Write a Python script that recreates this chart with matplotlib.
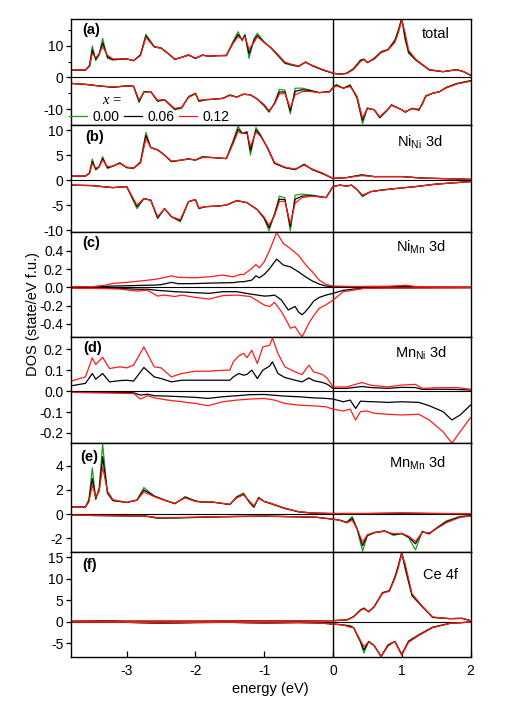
import numpy as np
import matplotlib.pyplot as plt

plt.rcParams['font.family'] = 'Liberation Sans'
plt.rcParams['mathtext.fontset'] = 'custom'
plt.rcParams['mathtext.rm'] = 'Liberation Sans'
plt.rcParams['axes.unicode_minus'] = False

x_labels = ['0.00', '0.06', '0.12']
colors = ['#1e9a1e', 'black', '#ff1a1a']

# ---- (a) total ----
E_a_up = [-3.81, -3.6, -3.54, -3.5, -3.45, -3.4, -3.35, -3.28, -3.2, -3.0, -2.9, -2.8, -2.72, -2.6, -2.5,
          -2.4, -2.3, -2.2, -2.1, -2.0, -1.9, -1.8, -1.7, -1.55, -1.45, -1.38, -1.32, -1.28, -1.22, -1.15,
          -1.1, -1.0, -0.9, -0.8, -0.7, -0.6, -0.5, -0.4, -0.3, -0.15, 0.0, 0.1, 0.2, 0.3, 0.4, 0.45, 0.5,
          0.6, 0.7, 0.8, 0.9, 0.95, 1.0, 1.05, 1.1, 1.2, 1.3, 1.4, 1.6, 1.8, 1.9, 2.0]
a_up_000 = [2.3, 2.3, 4.0, 9.9, 5.3, 7.0, 12.3, 6.0, 5.5, 5.9, 5.2, 7.2, 13.6, 9.8, 9.3,
            7.6, 5.6, 6.4, 7.2, 5.9, 7.1, 6.6, 6.9, 6.8, 11.5, 14.4, 11.5, 13.6, 6.0, 12.2,
            13.9, 11.2, 9.2, 6.8, 4.4, 3.8, 3.4, 4.9, 3.6, 2.3, 1.3, 1.0, 1.3, 2.8, 5.5, 5.8, 4.6,
            6.0, 8.1, 8.8, 11.8, 15.0, 18.5, 11.8, 7.6, 5.5, 3.9, 2.3, 1.8, 2.5, 1.8, 0.7]
a_up_006 = [2.3, 2.3, 3.5, 8.6, 5.8, 7.5, 10.9, 6.5, 5.6, 5.8, 5.3, 7.0, 13.0, 9.6, 9.2,
            7.6, 5.7, 6.3, 7.0, 6.0, 7.0, 6.7, 6.8, 6.9, 11.0, 13.5, 11.8, 13.2, 7.5, 11.5,
            13.2, 11.0, 9.3, 7.0, 4.6, 4.0, 3.5, 4.8, 3.7, 2.4, 1.3, 1.0, 1.3, 2.7, 5.3, 5.7, 4.7,
            5.9, 8.0, 8.7, 11.5, 14.5, 18.5, 12.5, 8.0, 5.6, 4.0, 2.4, 1.8, 2.4, 1.8, 0.7]
a_up_012 = [2.3, 2.4, 3.5, 7.6, 6.2, 7.4, 9.7, 7.0, 5.8, 5.8, 5.3, 6.8, 12.6, 9.6, 9.2,
            7.5, 5.8, 6.3, 7.0, 6.1, 6.9, 6.7, 6.8, 7.0, 10.8, 12.8, 12.0, 12.8, 8.8, 11.0,
            12.8, 11.0, 9.3, 7.2, 4.8, 4.1, 3.6, 4.7, 3.8, 2.5, 1.4, 1.0, 1.2, 2.5, 5.0, 5.6, 4.8,
            5.7, 7.8, 8.6, 11.0, 14.0, 18.0, 14.0, 8.6, 5.8, 4.1, 2.5, 1.8, 2.4, 1.8, 0.8]

E_a_dn = [-3.81, -3.6, -3.4, -3.2, -3.0, -2.9, -2.82, -2.75, -2.65, -2.55, -2.45, -2.3, -2.2, -2.1, -2.0,
          -1.95, -1.85, -1.75, -1.6, -1.5, -1.4, -1.3, -1.2, -1.1, -1.0, -0.93, -0.85, -0.78, -0.7, -0.62,
          -0.55, -0.45, -0.35, -0.2, -0.05, 0.0, 0.05, 0.15, 0.25, 0.3, 0.35, 0.43, 0.5, 0.6, 0.68,
          0.8, 0.85, 1.0, 1.05, 1.15, 1.25, 1.3, 1.35, 1.45, 1.55, 1.65, 1.8, 2.0]
a_dn_000 = [-1.9, -2.2, -2.7, -3.1, -2.7, -2.8, -7.9, -4.5, -4.5, -7.6, -7.1, -10.2, -9.7, -6.0, -5.0,
            -7.6, -7.1, -6.9, -6.6, -5.5, -6.2, -5.3, -5.5, -6.9, -9.0, -11.0, -8.1, -3.8, -4.0, -11.5,
            -3.4, -3.4, -3.9, -4.8, -4.5, -3.1, -2.2, -3.4, -2.3, -4.5, -6.6, -14.6, -9.7, -10.2, -12.8,
            -10.2, -8.6, -10.2, -11.0, -9.7, -10.4, -8.1, -5.8, -5.0, -4.5, -3.1, -1.9, -1.0]
a_dn_006 = [-1.9, -2.2, -2.7, -3.1, -2.7, -2.8, -7.5, -4.6, -4.5, -7.4, -7.0, -10.0, -9.5, -6.2, -5.1,
            -7.4, -7.0, -6.9, -6.6, -5.6, -6.2, -5.3, -5.5, -6.8, -8.8, -10.7, -8.2, -4.6, -4.6, -10.5,
            -4.4, -3.9, -4.1, -4.8, -4.5, -3.2, -2.5, -3.4, -2.6, -4.4, -6.3, -13.5, -9.7, -10.2, -12.6,
            -10.1, -8.7, -10.2, -10.9, -9.8, -10.2, -8.3, -5.9, -5.0, -4.5, -3.2, -2.0, -1.1]
a_dn_012 = [-1.9, -2.2, -2.7, -3.0, -2.7, -2.8, -7.1, -4.7, -4.5, -7.2, -7.0, -9.8, -9.4, -6.3, -5.2,
            -7.2, -7.0, -6.9, -6.6, -5.7, -6.2, -5.3, -5.5, -6.8, -8.6, -10.5, -8.4, -5.3, -5.0, -9.7,
            -5.5, -4.5, -4.4, -4.8, -4.6, -3.3, -2.7, -3.4, -2.9, -4.3, -6.0, -12.8, -9.8, -10.2, -12.4,
            -10.0, -8.8, -10.2, -10.8, -9.9, -10.0, -8.5, -6.0, -5.0, -4.5, -3.3, -2.1, -1.2]

# ---- (b) Ni_Ni 3d ----
E_b_up = [-3.81, -3.6, -3.54, -3.5, -3.45, -3.4, -3.35, -3.28, -3.2, -3.1, -3.0, -2.9, -2.8, -2.72, -2.65,
          -2.55, -2.45, -2.35, -2.2, -2.1, -2.0, -1.9, -1.75, -1.55, -1.45, -1.38, -1.32, -1.25, -1.2, -1.12,
          -1.05, -0.95, -0.85, -0.7, -0.55, -0.42, -0.3, -0.15, 0.0, 0.2, 0.42, 0.6, 1.0, 1.3, 1.6, 2.0]
b_up_000 = [0.8, 0.8, 1.5, 4.2, 2.0, 2.6, 4.7, 2.3, 2.8, 3.5, 2.5, 2.3, 3.7, 9.5, 6.5,
            6.1, 5.0, 3.7, 4.0, 4.3, 4.0, 4.7, 4.5, 4.3, 8.0, 10.8, 9.3, 9.7, 5.0, 10.5,
            9.0, 6.3, 3.3, 2.5, 2.1, 3.2, 2.1, 1.3, 0.33, 0.5, 1.1, 0.7, 0.7, 0.4, 0.3, 0.15]
b_up_006 = [0.8, 0.8, 1.4, 3.7, 2.2, 2.7, 4.3, 2.5, 2.8, 3.4, 2.5, 2.4, 3.5, 8.9, 6.5,
            6.0, 5.0, 3.7, 4.0, 4.2, 4.0, 4.6, 4.5, 4.3, 7.6, 10.2, 9.3, 9.5, 5.9, 10.0,
            8.8, 6.4, 3.4, 2.5, 2.1, 3.1, 2.1, 1.3, 0.33, 0.5, 1.0, 0.7, 0.7, 0.4, 0.3, 0.15]
b_up_012 = [0.8, 0.8, 1.3, 3.3, 2.4, 2.7, 4.0, 2.7, 2.8, 3.3, 2.6, 2.4, 3.4, 8.3, 6.5,
            6.0, 5.0, 3.8, 4.0, 4.2, 4.0, 4.5, 4.5, 4.3, 7.3, 9.7, 9.3, 9.3, 6.7, 9.6,
            8.7, 6.5, 3.5, 2.6, 2.2, 3.0, 2.2, 1.4, 0.35, 0.5, 0.9, 0.7, 0.7, 0.4, 0.3, 0.15]

E_b_dn = [-3.81, -3.5, -3.2, -3.0, -2.85, -2.75, -2.65, -2.55, -2.45, -2.35, -2.22, -2.1, -2.0, -1.95,
          -1.85, -1.7, -1.55, -1.4, -1.25, -1.1, -1.0, -0.93, -0.85, -0.78, -0.7, -0.62, -0.55, -0.45,
          -0.3, -0.1, 0.0, 0.1, 0.2, 0.27, 0.35, 0.43, 0.55, 0.7, 0.9, 1.2, 1.5, 2.0]
b_dn_000 = [-1.0, -1.1, -1.5, -1.3, -5.7, -3.7, -4.0, -7.7, -5.7, -7.3, -8.3, -4.3, -3.9, -5.7,
            -5.3, -5.2, -5.0, -4.1, -4.5, -5.9, -7.7, -10.1, -6.7, -3.2, -3.5, -10.1, -3.0, -2.8,
            -3.0, -3.5, -1.3, -1.0, -1.2, -1.0, -1.9, -3.3, -2.3, -2.0, -1.7, -1.3, -0.8, -0.3]
b_dn_006 = [-1.0, -1.1, -1.5, -1.3, -5.3, -3.7, -4.0, -7.5, -5.7, -7.3, -8.1, -4.3, -3.9, -5.6,
            -5.3, -5.2, -5.0, -4.1, -4.5, -5.9, -7.6, -9.5, -6.9, -3.8, -3.9, -9.3, -3.8, -3.2,
            -3.1, -3.5, -1.3, -1.0, -1.2, -1.0, -1.9, -3.1, -2.3, -2.0, -1.7, -1.3, -0.8, -0.3]
b_dn_012 = [-1.0, -1.1, -1.5, -1.3, -5.0, -3.7, -4.0, -7.3, -5.7, -7.3, -7.9, -4.3, -3.9, -5.5,
            -5.3, -5.2, -5.0, -4.1, -4.5, -5.9, -7.4, -9.0, -7.1, -4.3, -4.2, -8.7, -4.6, -3.5,
            -3.2, -3.5, -1.3, -1.0, -1.2, -1.0, -1.9, -3.0, -2.3, -2.0, -1.7, -1.3, -0.8, -0.3]

# ---- (c) Ni_Mn 3d  (no antisite Ni at x = 0.00) ----
E_c_up = [-3.81, -3.5, -3.3, -3.2, -3.0, -2.8, -2.6, -2.5, -2.35, -2.25, -2.0, -1.8, -1.6, -1.45, -1.35,
          -1.3, -1.18, -1.12, -1.07, -1.0, -0.92, -0.82, -0.72, -0.62, -0.5, -0.4, -0.3, -0.2, -0.1, 0.0,
          0.3, 0.8, 1.0, 1.05, 1.2, 1.6, 2.0]
c_up_006 = [0.004, 0.005, 0.011, 0.015, 0.018, 0.022, 0.025, 0.03, 0.055, 0.04, 0.042, 0.047, 0.05, 0.052, 0.062,
            0.062, 0.08, 0.127, 0.105, 0.142, 0.207, 0.31, 0.244, 0.225, 0.17, 0.116, 0.07, 0.036, 0.015, 0.007,
            0.006, 0.007, 0.01, 0.012, 0.006, 0.004, 0.003]
c_up_012 = [0.007, 0.008, 0.025, 0.044, 0.055, 0.07, 0.087, 0.1, 0.127, 0.11, 0.105, 0.116, 0.135, 0.116, 0.142,
            0.14, 0.207, 0.25, 0.215, 0.28, 0.41, 0.6, 0.48, 0.425, 0.35, 0.25, 0.17, 0.08, 0.033, 0.015,
            0.01, 0.013, 0.02, 0.025, 0.01, 0.006, 0.004]

E_c_dn = [-3.81, -3.4, -3.1, -2.85, -2.7, -2.55, -2.45, -2.3, -2.2, -2.0, -1.8, -1.6, -1.4, -1.2, -1.0,
          -0.92, -0.85, -0.75, -0.65, -0.62, -0.55, -0.5, -0.45, -0.4, -0.35, -0.28, -0.2, -0.1, -0.05, 0.0,
          0.15, 0.3, 0.45, 0.7, 2.0]
c_dn_006 = [-0.008, -0.009, -0.011, -0.02, -0.02, -0.033, -0.038, -0.047, -0.05, -0.058, -0.065, -0.047, -0.047,
            -0.073, -0.095, -0.092, -0.084, -0.138, -0.247, -0.235, -0.21, -0.27, -0.3, -0.265, -0.22, -0.15,
            -0.11, -0.084, -0.075, -0.065, -0.033, -0.018, -0.01, -0.006, -0.003]
c_dn_012 = [-0.011, -0.011, -0.018, -0.04, -0.03, -0.095, -0.084, -0.1, -0.084, -0.11, -0.127, -0.09, -0.084,
            -0.1, -0.193, -0.21, -0.164, -0.265, -0.40, -0.447, -0.43, -0.49, -0.54, -0.47, -0.39, -0.31,
            -0.23, -0.19, -0.164, -0.14, -0.047, -0.03, -0.011, -0.007, -0.004]

# ---- (d) Mn_Ni 3d  (no antisite Mn at x = 0.00) ----
E_d_up = [-3.81, -3.6, -3.5, -3.45, -3.35, -3.25, -3.1, -3.0, -2.9, -2.75, -2.6, -2.5, -2.35, -2.2, -2.0,
          -1.8, -1.6, -1.5, -1.45, -1.37, -1.3, -1.25, -1.18, -1.1, -1.02, -0.92, -0.88, -0.8, -0.7, -0.55,
          -0.45, -0.35, -0.28, -0.15, -0.08, 0.0, 0.2, 0.42, 0.55, 0.8, 1.0, 1.2, 1.3, 1.5, 1.8, 2.0]
d_up_006 = [0.025, 0.037, 0.084, 0.057, 0.084, 0.044, 0.05, 0.052, 0.048, 0.113, 0.068, 0.06, 0.044, 0.052, 0.052,
            0.052, 0.052, 0.052, 0.068, 0.084, 0.076, 0.08, 0.1, 0.06, 0.1, 0.12, 0.14, 0.084, 0.065, 0.052,
            0.044, 0.063, 0.05, 0.041, 0.032, 0.013, 0.013, 0.022, 0.017, 0.013, 0.018, 0.017, 0.008, 0.009,
            0.008, 0.005]
d_up_012 = [0.048, 0.068, 0.159, 0.127, 0.162, 0.108, 0.116, 0.111, 0.124, 0.211, 0.116, 0.111, 0.068, 0.084,
            0.095, 0.095, 0.1, 0.1, 0.14, 0.168, 0.18, 0.16, 0.195, 0.132, 0.211, 0.219, 0.254, 0.18, 0.116,
            0.092, 0.079, 0.124, 0.092, 0.079, 0.06, 0.02, 0.02, 0.041, 0.028, 0.02, 0.029, 0.032, 0.013,
            0.016, 0.017, 0.009]

E_d_dn = [-3.81, -3.0, -2.9, -2.8, -2.7, -2.6, -2.4, -2.2, -2.0, -1.82, -1.6, -1.4, -1.2, -1.0, -0.85,
          -0.7, -0.5, -0.3, -0.1, 0.0, 0.15, 0.25, 0.33, 0.4, 0.5, 0.6, 0.8, 1.0, 1.25, 1.4, 1.6, 1.73,
          1.85, 2.0]
d_dn_006 = [-0.006, -0.006, -0.008, -0.019, -0.015, -0.022, -0.024, -0.027, -0.03, -0.035, -0.027, -0.022,
            -0.017, -0.016, -0.02, -0.024, -0.027, -0.032, -0.035, -0.038, -0.051, -0.043, -0.083, -0.048,
            -0.05, -0.051, -0.054, -0.051, -0.054, -0.07, -0.098, -0.138, -0.114, -0.067]
d_dn_012 = [-0.006, -0.011, -0.011, -0.038, -0.022, -0.032, -0.043, -0.051, -0.059, -0.07, -0.051, -0.043,
            -0.038, -0.035, -0.043, -0.059, -0.067, -0.07, -0.075, -0.086, -0.095, -0.086, -0.138, -0.098,
            -0.095, -0.106, -0.111, -0.114, -0.111, -0.138, -0.194, -0.249, -0.194, -0.127]

# ---- (e) Mn_Mn 3d ----
E_e_up = [-3.81, -3.6, -3.55, -3.5, -3.45, -3.4, -3.35, -3.28, -3.2, -3.0, -2.85, -2.75, -2.6, -2.45, -2.3,
          -2.15, -2.0, -1.9, -1.75, -1.5, -1.4, -1.3, -1.22, -1.15, -1.08, -1.0, -0.9, -0.7, -0.5, -0.3,
          0.0, 0.5, 1.0, 1.5, 2.0]
e_up_000 = [0.6, 0.6, 1.2, 3.83, 1.2, 2.2, 5.8, 1.7, 1.1, 0.97, 1.2, 2.2, 1.5, 1.2, 0.85,
            1.45, 1.1, 1.0, 1.0, 0.8, 1.45, 1.75, 1.0, 0.55, 1.4, 1.05, 0.85, 0.47, 0.19, 0.08,
            0.05, 0.05, 0.08, 0.05, 0.04]
e_up_006 = [0.6, 0.6, 1.1, 2.95, 1.3, 2.0, 4.75, 1.8, 1.15, 0.97, 1.15, 2.0, 1.5, 1.15, 0.88,
            1.4, 1.08, 1.0, 1.0, 0.8, 1.4, 1.65, 1.05, 0.62, 1.35, 1.05, 0.88, 0.48, 0.2, 0.09,
            0.05, 0.05, 0.08, 0.05, 0.04]
e_up_012 = [0.6, 0.6, 1.0, 2.4, 1.4, 1.9, 3.9, 1.9, 1.2, 0.97, 1.15, 1.85, 1.45, 1.15, 0.9,
            1.35, 1.05, 1.0, 1.0, 0.82, 1.35, 1.6, 1.1, 0.7, 1.3, 1.05, 0.9, 0.5, 0.21, 0.1,
            0.06, 0.06, 0.1, 0.06, 0.05]

E_e_dn = [-3.81, -3.0, -2.75, -2.55, -2.3, -1.8, -1.4, -1.0, -0.5, -0.25, 0.0, 0.1, 0.2, 0.28, 0.35,
          0.43, 0.5, 0.6, 0.75, 0.88, 1.0, 1.1, 1.2, 1.3, 1.4, 1.5, 1.65, 1.85, 2.0]
e_dn_000 = [-0.08, -0.14, -0.14, -0.35, -0.32, -0.25, -0.2, -0.16, -0.22, -0.25, -0.41, -0.5, -0.65, -0.2, -1.2,
            -3.05, -1.8, -1.55, -1.35, -1.75, -1.6, -1.95, -2.95, -1.4, -1.65, -1.15, -0.55, -0.18, -0.12]
e_dn_006 = [-0.08, -0.14, -0.14, -0.3, -0.3, -0.23, -0.19, -0.16, -0.22, -0.25, -0.41, -0.5, -0.7, -0.35, -1.19,
            -2.6, -1.74, -1.52, -1.4, -1.68, -1.6, -1.88, -2.45, -1.46, -1.6, -1.19, -0.63, -0.22, -0.14]
e_dn_012 = [-0.08, -0.14, -0.14, -0.28, -0.28, -0.22, -0.18, -0.16, -0.22, -0.25, -0.41, -0.5, -0.72, -0.5, -1.2,
            -2.3, -1.7, -1.5, -1.42, -1.62, -1.58, -1.82, -2.25, -1.5, -1.55, -1.22, -0.7, -0.26, -0.16]

# ---- (f) Ce 4f ----
E_f_up = [-3.81, -3.5, -3.35, -3.0, -2.5, -2.0, -1.5, -1.0, -0.5, 0.0, 0.2, 0.3, 0.4, 0.45, 0.52,
          0.6, 0.72, 0.82, 0.9, 0.95, 1.0, 1.05, 1.15, 1.3, 1.45, 1.7, 1.88, 2.0]
f_up_000 = [0.1, 0.15, 0.25, 0.1, 0.1, 0.1, 0.15, 0.2, 0.15, 0.23, 0.4, 1.2, 2.8, 3.2, 2.3,
            3.5, 6.8, 7.2, 10.4, 13.0, 16.2, 12.3, 6.0, 3.5, 1.0, 0.7, 0.8, 0.2]
f_up_006 = [0.1, 0.15, 0.2, 0.1, 0.1, 0.1, 0.15, 0.2, 0.15, 0.23, 0.4, 1.15, 2.7, 3.1, 2.3,
            3.5, 6.7, 7.2, 10.3, 13.0, 16.0, 12.7, 6.15, 3.5, 1.0, 0.7, 0.77, 0.23]
f_up_012 = [0.1, 0.12, 0.15, 0.1, 0.1, 0.1, 0.15, 0.2, 0.18, 0.25, 0.4, 1.1, 2.6, 3.0, 2.4,
            3.4, 6.6, 7.1, 10.0, 12.5, 15.8, 13.5, 6.5, 3.6, 1.1, 0.7, 0.75, 0.25]

E_f_dn = [-3.81, -3.5, -3.0, -2.5, -2.0, -1.5, -1.0, -0.5, -0.2, 0.0, 0.15, 0.25, 0.3, 0.4, 0.45,
          0.52, 0.6, 0.7, 0.8, 0.9, 1.0, 1.1, 1.25, 1.45, 1.7, 2.0]
f_dn_000 = [-0.08, -0.1, -0.15, -0.4, -0.2, -0.15, -0.3, -0.2, -0.3, -0.54, -0.77, -0.9, -1.4, -4.8, -7.3,
            -4.6, -5.6, -8.1, -5.4, -4.6, -7.6, -4.5, -3.0, -1.3, -0.4, -0.08]
f_dn_006 = [-0.08, -0.1, -0.15, -0.35, -0.2, -0.15, -0.3, -0.2, -0.3, -0.54, -0.77, -1.1, -1.4, -4.6, -6.6,
            -4.6, -5.6, -8.1, -5.5, -4.6, -7.7, -4.6, -3.1, -1.3, -0.4, -0.08]
f_dn_012 = [-0.08, -0.1, -0.15, -0.3, -0.2, -0.15, -0.3, -0.2, -0.3, -0.54, -0.77, -1.3, -1.4, -4.4, -5.8,
            -4.7, -5.6, -8.1, -5.7, -4.6, -7.8, -4.8, -3.2, -1.4, -0.4, -0.08]

panels = [
    ('(a)', 'total', (-15, 18.3), [-10, 0, 10], [-5, 5, 15], '%d',
     E_a_up, [a_up_000, a_up_006, a_up_012], E_a_dn, [a_dn_000, a_dn_006, a_dn_012]),
    ('(b)', r'Ni$_{\mathrm{Ni}}$ 3d', (-10.3, 11), [-10, -5, 0, 5, 10], [], '%d',
     E_b_up, [b_up_000, b_up_006, b_up_012], E_b_dn, [b_dn_000, b_dn_006, b_dn_012]),
    ('(c)', r'Ni$_{\mathrm{Mn}}$ 3d', (-0.54, 0.61), [-0.4, -0.2, 0, 0.2, 0.4], [], '%.1f',
     E_c_up, [None, c_up_006, c_up_012], E_c_dn, [None, c_dn_006, c_dn_012]),
    ('(d)', r'Mn$_{\mathrm{Ni}}$ 3d', (-0.25, 0.26), [-0.2, -0.1, 0, 0.1, 0.2], [], '%.1f',
     E_d_up, [None, d_up_006, d_up_012], E_d_dn, [None, d_dn_006, d_dn_012]),
    ('(e)', r'Mn$_{\mathrm{Mn}}$ 3d', (-3.1, 5.85), [-2, 0, 2, 4], [], '%d',
     E_e_up, [e_up_000, e_up_006, e_up_012], E_e_dn, [e_dn_000, e_dn_006, e_dn_012]),
    ('(f)', 'Ce 4f', (-8.3, 16.3), [-5, 0, 5, 10, 15], [], '%d',
     E_f_up, [f_up_000, f_up_006, f_up_012], E_f_dn, [f_dn_000, f_dn_006, f_dn_012]),
]

# pixel positions of the panel tags and names (left x, centre y)
tag_pos = [(82, 30), (85, 137), (82, 243), (83, 348), (80, 457), (82, 565)]
name_pos = [(422, 34), (397, 142), (396, 247), (395, 353), (389, 463), (423, 575)]

W, H = 507, 707
fig = plt.figure(figsize=(W / 100, H / 100), dpi=100)
gs = fig.add_gridspec(6, 1, left=71 / W, right=470.5 / W, top=1 - 19.3 / H, bottom=1 - 657.3 / H,
                      hspace=0, height_ratios=[105.7, 106.7, 105, 106.7, 108.3, 105.6])

axes = []
for i, (tag, name, ylim, yt, ymin, fmt, Eu, ups, Ed, dns) in enumerate(panels):
    ax = fig.add_subplot(gs[i])
    axes.append(ax)
    ax.axhline(0, color='black', lw=0.8, zorder=1)
    ax.axvline(0, color='black', lw=1.0, zorder=1)
    for k in range(3):
        if ups[k] is None:
            continue
        ax.plot(Eu, ups[k], color=colors[k], lw=0.9, label=x_labels[k], zorder=2)
        ax.plot(Ed, dns[k], color=colors[k], lw=0.9, zorder=2)
    ax.set_xlim(-3.81, 2)
    ax.set_ylim(*ylim)
    ax.set_yticks(yt)
    ax.set_yticklabels([fmt % v for v in yt])
    if ymin:
        ax.set_yticks(ymin, minor=True)
    ax.tick_params(axis='y', which='major', direction='out', length=3.5, width=0.9, labelsize=10, pad=2)
    ax.tick_params(axis='y', which='minor', direction='out', length=2, width=0.8)
    for s in ax.spines.values():
        s.set_linewidth(1.0)
    if i < 5:
        ax.tick_params(axis='x', bottom=False, labelbottom=False)
    fig.text(tag_pos[i][0] / W, 1 - tag_pos[i][1] / H, tag, fontsize=10.5, fontweight='bold',
             ha='left', va='center')
    fig.text(name_pos[i][0] / W, 1 - name_pos[i][1] / H, name, fontsize=10.5, ha='left', va='center')

ax_b = axes[-1]
ax_b.set_xticks([-3, -2, -1, 0, 1, 2])
ax_b.tick_params(axis='x', direction='in', length=4, width=0.9, labelsize=10, pad=5)
ax_b.set_xlabel('energy (eV)', fontsize=10.5, labelpad=3)

leg = axes[0].legend(loc='center left', bbox_to_anchor=(-0.005, 0.078), ncol=3, frameon=False,
                     fontsize=10, handlelength=1.3, handletextpad=0.4, columnspacing=0.3,
                     borderpad=0, borderaxespad=0)
fig.text(102 / W, 1 - 101 / H, 'x =', fontsize=10.5, style='italic', family='Liberation Serif',
         ha='left', va='center')

fig.text(33 / W, 1 - 314 / H, 'DOS (state/eV f.u.)', rotation=90, fontsize=10.5, ha='center', va='center')

fig.savefig('out.png', dpi=100)
